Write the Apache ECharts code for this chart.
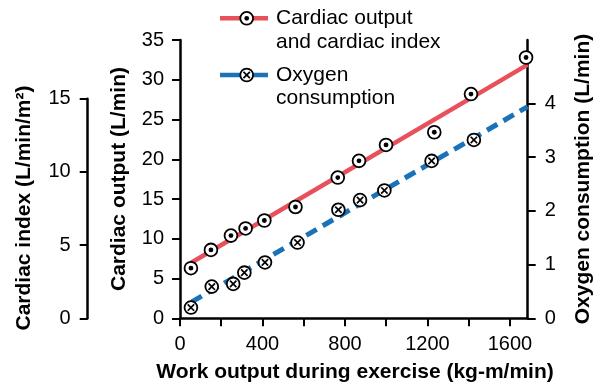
<!DOCTYPE html>
<html>
<head>
<meta charset="utf-8">
<title>Cardiac output and oxygen consumption during exercise</title>
<script src="https://cdn.jsdelivr.net/npm/echarts@6/dist/echarts.min.js"></script>
<style>
  html, body { margin: 0; padding: 0; background: #fff; }
  #chart { width: 602px; height: 388px; }
</style>
</head>
<body>
<div id="chart"></div>
<script>
// Measured cardiac output (L/min) at each work load (kg-m/min)
const coWork = [53, 150, 247, 318, 409, 560, 765, 868, 999, 1233, 1411, 1678];
const cardiacOutput = [6.3, 8.6, 10.4, 11.3, 12.3, 14.0, 17.7, 19.8, 21.8, 23.4, 28.2, 32.8];

// Measured oxygen consumption (L/min) at each work load
const o2Work = [53, 154, 258, 312, 412, 570, 768, 873, 991, 1220, 1425];
const oxygenUse = [0.2, 0.59, 0.64, 0.85, 1.04, 1.41, 2.02, 2.2, 2.38, 2.93, 3.32];

// Fitted trend lines (end points)
const coFitWork = [52, 1686];
const coFitValue = [6.95, 31.9];
const o2FitWork = [55, 1686];
const o2FitValue = [0.3, 3.94];

// Axis ticks
const workTicks = [0, 200, 400, 600, 800, 1000, 1200, 1400, 1600];
const workLabels = [0, 400, 800, 1200, 1600];
const o2Ticks = [0, 1, 2, 3, 4];

const FONT = "'Liberation Sans', Arial, Helvetica, sans-serif";
const RED = '#e8505b';
const BLUE = '#1a72b9';

function marker(cx, cy, kind) {
  const parts = [{
    type: 'circle',
    shape: { cx: cx, cy: cy, r: 6.4 },
    style: { fill: '#fff', stroke: '#000', lineWidth: 1.8 }
  }];
  if (kind === 'dot') {
    parts.push({ type: 'circle', shape: { cx: cx, cy: cy, r: 2.4 }, style: { fill: '#000' } });
  } else {
    const d = 3.2;
    parts.push({ type: 'line', shape: { x1: cx - d, y1: cy - d, x2: cx + d, y2: cy + d }, style: { stroke: '#000', lineWidth: 1.7 } });
    parts.push({ type: 'line', shape: { x1: cx - d, y1: cy + d, x2: cx + d, y2: cy - d }, style: { stroke: '#000', lineWidth: 1.7 } });
  }
  return parts;
}

function markerSeries(name, xs, ys, yAxisIndex, kind) {
  return {
    name: name,
    type: 'custom',
    xAxisIndex: 0,
    yAxisIndex: yAxisIndex,
    z: 5,
    data: xs.map((x, i) => [x, ys[i]]),
    encode: { x: 0, y: 1 },
    renderItem: function (params, api) {
      const p = api.coord([api.value(0), api.value(1)]);
      return { type: 'group', children: marker(p[0], p[1], kind) };
    }
  };
}

const axisLine = { show: true, lineStyle: { color: '#000', width: 2.5 } };
const axisTick = { show: true, length: 8, lineStyle: { color: '#000', width: 2 } };
const tickLabel = { color: '#000', fontSize: 20, fontFamily: FONT, formatter: v => String(v) };

const chart = echarts.init(document.getElementById('chart'), null, { renderer: 'canvas' });

chart.setOption({
  animation: false,
  backgroundColor: '#fff',
  grid: [
    { left: 180, right: 74.3, top: 40, bottom: 69.7 },
    { left: 87.7, width: 1, top: 98.7, bottom: 69.7 }
  ],
  xAxis: [
    {
      gridIndex: 0, type: 'value', min: 0, max: 1686,
      axisLine: axisLine,
      axisTick: Object.assign({}, axisTick, { customValues: workTicks }),
      axisLabel: Object.assign({}, tickLabel, { margin: 16, customValues: workLabels }),
      splitLine: { show: false }
    },
    { gridIndex: 1, type: 'value', min: 0, max: 1, show: false }
  ],
  yAxis: [
    {
      gridIndex: 0, type: 'value', position: 'left', min: 0, max: 35, interval: 5,
      axisLine: axisLine, axisTick: axisTick,
      axisLabel: Object.assign({}, tickLabel, { margin: 16 }),
      splitLine: { show: false }
    },
    {
      gridIndex: 1, type: 'value', position: 'left', min: 0, max: 15, interval: 5,
      axisLine: axisLine, axisTick: axisTick,
      axisLabel: Object.assign({}, tickLabel, { margin: 17 }),
      splitLine: { show: false }
    },
    {
      gridIndex: 0, type: 'value', position: 'right', min: 0, max: 5.18,
      axisLine: axisLine,
      axisTick: Object.assign({}, axisTick, { customValues: o2Ticks }),
      axisLabel: Object.assign({}, tickLabel, { margin: 17, customValues: o2Ticks }),
      splitLine: { show: false }
    }
  ],
  series: [
    {
      name: 'Cardiac output fit', type: 'line', xAxisIndex: 0, yAxisIndex: 0,
      data: coFitWork.map((x, i) => [x, coFitValue[i]]),
      symbol: 'none', z: 3,
      lineStyle: { color: RED, width: 4.5, cap: 'butt' }
    },
    {
      name: 'Oxygen consumption fit', type: 'line', xAxisIndex: 0, yAxisIndex: 2,
      data: o2FitWork.map((x, i) => [x, o2FitValue[i]]),
      symbol: 'none', z: 3,
      lineStyle: { color: BLUE, width: 5, type: [12, 7], cap: 'butt' }
    },
    markerSeries('Cardiac output', coWork, cardiacOutput, 0, 'dot'),
    markerSeries('Oxygen consumption', o2Work, oxygenUse, 2, 'cross')
  ],
  graphic: [
    // axis titles
    {
      type: 'text', x: 355, y: 372, z: 10,
      style: { text: 'Work output during exercise (kg-m/min)', font: 'bold 21px ' + FONT, fill: '#000', align: 'center', verticalAlign: 'middle' }
    },
    {
      type: 'text', x: 119, y: 179, rotation: Math.PI / 2, z: 10,
      style: { text: 'Cardiac output (L/min)', font: 'bold 21px ' + FONT, fill: '#000', align: 'center', verticalAlign: 'middle' }
    },
    {
      type: 'text', x: 24, y: 208, rotation: Math.PI / 2, z: 10,
      style: { text: 'Cardiac index (L/min/m²)', font: 'bold 21px ' + FONT, fill: '#000', align: 'center', verticalAlign: 'middle' }
    },
    {
      type: 'text', x: 583, y: 179, rotation: Math.PI / 2, z: 10,
      style: { text: 'Oxygen consumption (L/min)', font: 'bold 21px ' + FONT, fill: '#000', align: 'center', verticalAlign: 'middle' }
    },
    // legend
    {
      type: 'group', z: 10,
      children: [
        { type: 'line', shape: { x1: 220, y1: 18.3, x2: 268, y2: 18.3 }, style: { stroke: RED, lineWidth: 4.5 } }
      ].concat(marker(246.7, 18.3, 'dot')).concat([
        { type: 'text', x: 276, y: 30, style: { text: 'Cardiac output\nand cardiac index', font: '21px ' + FONT, lineHeight: 23.5, fill: '#000', align: 'left', verticalAlign: 'middle' } },
        { type: 'line', shape: { x1: 220, y1: 75, x2: 268, y2: 75 }, style: { stroke: BLUE, lineWidth: 4.5 } }
      ]).concat(marker(246.7, 75, 'cross')).concat([
        { type: 'text', x: 276, y: 86.5, style: { text: 'Oxygen\nconsumption', font: '21px ' + FONT, lineHeight: 23.5, fill: '#000', align: 'left', verticalAlign: 'middle' } }
      ])
    }
  ]
});
</script>
</body>
</html>
